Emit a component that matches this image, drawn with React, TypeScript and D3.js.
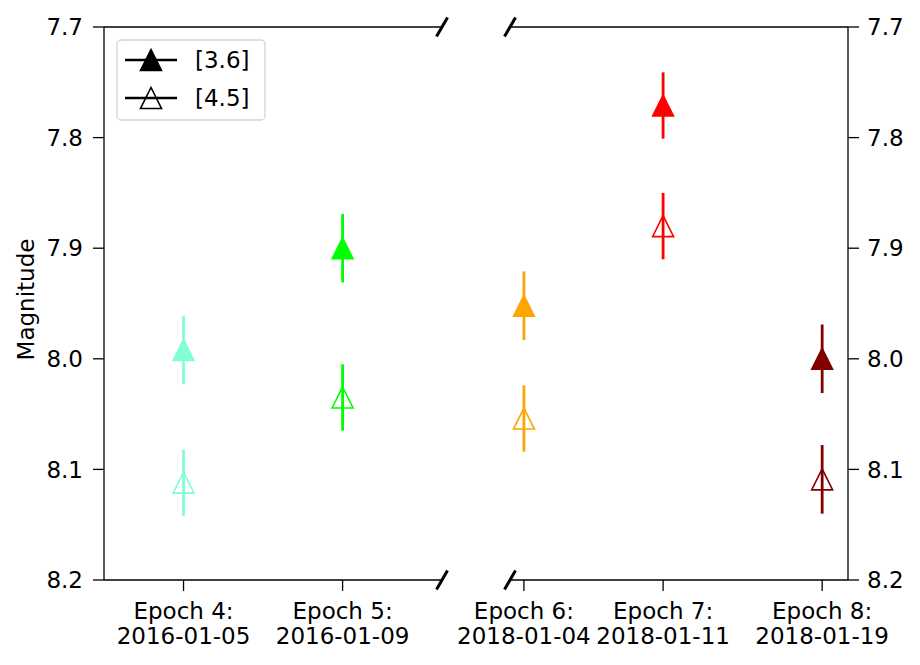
import * as d3 from 'd3';
import React from 'react';

// epochs split over the two panels of the broken axis
const epochLabels = ['Epoch 4:', 'Epoch 5:', 'Epoch 6:', 'Epoch 7:', 'Epoch 8:'];
const epochDates = ['2016-01-05', '2016-01-09', '2018-01-04', '2018-01-11', '2018-01-19'];
const epochPanel = [0, 0, 1, 1, 1];
const epochColors = ['#7fffd4', '#00ff00', '#ffa500', '#ff0000', '#800000'];

// magnitudes
const mag36 = [7.992, 7.9, 7.952, 7.771, 8.0];
const err36 = [0.031, 0.031, 0.031, 0.03, 0.031];
const mag45 = [8.112, 8.035, 8.054, 7.88, 8.109];
const err45 = [0.03, 0.03, 0.03, 0.03, 0.031];

const yTicks = [7.7, 7.8, 7.9, 8.0, 8.1, 8.2];
const legendLabels = ['[3.6]', '[4.5]'];

// x limits of each panel
const panelDomains = [
  ['2016-01-03T00:00:00Z', '2016-01-11T12:00:00Z'],
  ['2018-01-03T07:12:00Z', '2018-01-20T07:12:00Z'],
];

const width = 920;
const height = 665;
const marginTop = 27;
const marginBottom = 85;
const panelLeft = [104, 510];
const panelWidth = 338;
const font = 'DejaVu Sans, sans-serif';
const fs = 23;

const tri = (s: number) => `M0,${-s}L${s},${s}L${-s},${s}Z`;

const App = () => {
  const y = d3.scaleLinear([7.7, 8.2], [marginTop, height - marginBottom]);
  const xs = panelDomains.map((dom, i) =>
    d3
      .scaleUtc()
      .domain(dom.map((d) => new Date(d)))
      .range([panelLeft[i], panelLeft[i] + panelWidth])
  );
  const xOf = (i: number) => xs[epochPanel[i]](new Date(epochDates[i] + 'T00:00:00Z'));
  const top = y(7.7);
  const bottom = y(8.2);
  const left0 = panelLeft[0];
  const right0 = panelLeft[0] + panelWidth;
  const left1 = panelLeft[1];
  const right1 = panelLeft[1] + panelWidth;

  const breakMark = (cx: number, cy: number, key: string) => (
    <line key={key} x1={cx - 5.5} y1={cy + 9.5} x2={cx + 5.5} y2={cy - 9.5} stroke="black" strokeWidth={3} />
  );

  return (
    <div style={{ position: 'absolute', left: 0, top: 0 }}>
      <svg width={width} height={height} style={{ display: 'block', background: 'white' }} fontFamily={font}>
        {/* spines */}
        <g stroke="black" strokeWidth={1.3} fill="none">
          <line x1={left0} y1={top} x2={left0} y2={bottom} />
          <line x1={left0} y1={top} x2={right0} y2={top} />
          <line x1={left0} y1={bottom} x2={right0} y2={bottom} />
          <line x1={right1} y1={top} x2={right1} y2={bottom} />
          <line x1={left1} y1={top} x2={right1} y2={top} />
          <line x1={left1} y1={bottom} x2={right1} y2={bottom} />
        </g>
        {breakMark(right0, top, 'b1')}
        {breakMark(right0, bottom, 'b2')}
        {breakMark(left1, top, 'b3')}
        {breakMark(left1, bottom, 'b4')}

        {/* y ticks left and right */}
        {yTicks.map((t) => (
          <g key={t}>
            <line x1={left0 - 11} x2={left0} y1={y(t)} y2={y(t)} stroke="black" strokeWidth={1.3} />
            <text x={left0 - 21} y={y(t)} dy="0.36em" textAnchor="end" fontSize={fs}>
              {t.toFixed(1)}
            </text>
            <line x1={right1} x2={right1 + 11} y1={y(t)} y2={y(t)} stroke="black" strokeWidth={1.3} />
            <text x={right1 + 19} y={y(t)} dy="0.36em" textAnchor="start" fontSize={fs}>
              {t.toFixed(1)}
            </text>
          </g>
        ))}
        <text transform={`translate(34,${(top + bottom) / 2 - 4}) rotate(-90)`} textAnchor="middle" fontSize={fs}>
          Magnitude
        </text>

        {/* x ticks */}
        {epochLabels.map((lab, i) => (
          <g key={lab} transform={`translate(${xOf(i)},0)`}>
            <line y1={bottom} y2={bottom + 11} stroke="black" strokeWidth={1.3} />
            <text y={619} textAnchor="middle" fontSize={fs}>
              {lab}
            </text>
            <text y={644} textAnchor="middle" fontSize={fs}>
              {epochDates[i]}
            </text>
          </g>
        ))}

        {/* data */}
        {epochLabels.map((lab, i) => (
          <g key={'d' + lab} stroke={epochColors[i]}>
            <line x1={xOf(i)} x2={xOf(i)} y1={y(mag36[i] - err36[i])} y2={y(mag36[i] + err36[i])} strokeWidth={2.8} />
            <path d={tri(10.5)} transform={`translate(${xOf(i)},${y(mag36[i])})`} fill={epochColors[i]} strokeWidth={1.5} />
            <line x1={xOf(i)} x2={xOf(i)} y1={y(mag45[i] - err45[i])} y2={y(mag45[i] + err45[i])} strokeWidth={2.8} />
            <path d={tri(10.5)} transform={`translate(${xOf(i)},${y(mag45[i])})`} fill="none" strokeWidth={1.6} />
          </g>
        ))}

        {/* legend */}
        <rect x={117} y={40} width={148} height={80} rx={4} fill="white" fillOpacity={0.8} stroke="#d5d5d5" strokeWidth={1.3} />
        {legendLabels.map((lab, i) => {
          const ly = 60 + i * 38;
          return (
            <g key={lab}>
              <line x1={125} x2={177} y1={ly} y2={ly} stroke="black" strokeWidth={2.6} />
              <path d={tri(10.5)} transform={`translate(151,${ly})`} fill={i === 0 ? 'black' : 'none'} stroke="black" strokeWidth={1.6} />
              <text x={195} y={ly} dy="0.36em" fontSize={fs}>
                {lab}
              </text>
            </g>
          );
        })}
      </svg>
    </div>
  );
};

export default App;
